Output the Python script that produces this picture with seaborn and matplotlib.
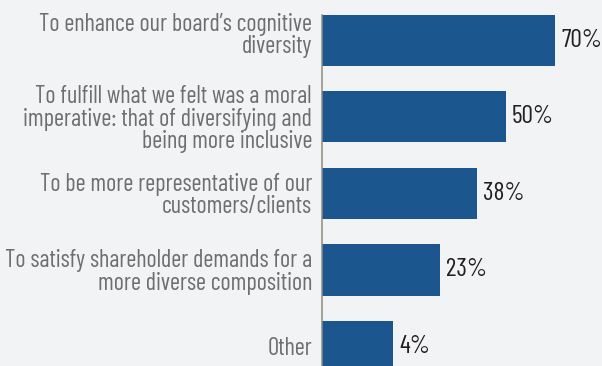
import matplotlib
matplotlib.use("Agg")
import matplotlib.pyplot as plt
from matplotlib import font_manager as fm
from matplotlib.transforms import ScaledTranslation
import seaborn as sns
import pandas as pd

categories = [
    "To enhance our board\u2019s cognitive\ndiversity",
    "To fulfill what we felt was a moral\nimperative: that of diversifying and\nbeing more inclusive",
    "To be more representative of our\ncustomers/clients",
    "To satisfy shareholder demands for a\nmore diverse composition",
    "Other",
]
values = [70, 50, 38, 23, 4]
value_labels = ["70%", "50%", "38%", "23%", "4%"]

BG = "#f2f3f5"
BAR = "#1b568e"
XMIN, XMAX = -24.96, 89.07

sns.set_theme(style="white")
available = {f.name for f in fm.fontManager.ttflist}
main = next(n for n in ["Barlow Condensed", "Roboto Condensed", "Archivo Narrow",
                        "DejaVu Sans"] if n in available)
fam = [main, "DejaVu Sans"]
plt.rcParams["font.family"] = fam

df = pd.DataFrame({"reason": categories, "pct": values})

fig = plt.figure(figsize=(6.02, 3.66), dpi=100, facecolor=BG)
ax = fig.add_axes([322 / 602, 0, 280 / 602, 1 - 15 / 366])
ax.set_facecolor(BG)

r = fig.canvas.get_renderer()
def width_at(s, size):
    t = fig.text(0, 0, s, fontsize=size, family=fam)
    w = t.get_window_extent(r).width
    t.remove()
    return w
lab_size = 16 * 215 / width_at("more diverse composition", 16)
val_size = 16 * 41 / width_at("70%", 16)

sns.barplot(data=df, x="pct", y="reason", color=BAR, width=0.667,
            saturation=1, ax=ax, orient="h")

# bars extend back to the axis line; right end sits at the value
for p in ax.patches:
    w = p.get_width()
    p.set_x(XMIN)
    p.set_width(w - XMIN)
    p.set_edgecolor("none")

ax.set_xlim(XMIN, XMAX)
ax.set_ylim(4.255, -0.333)

lift = ScaledTranslation(0, 0.07, fig.dpi_scale_trans)

for i, (v, lab) in enumerate(zip(values, value_labels)):
    a = ax.annotate(lab, xy=(v, i), xytext=(4.3, 0), textcoords="offset points",
                    ha="left", va="center", fontsize=val_size, color="#231f20",
                    family=fam)
    if i == 0:
        a.set_transform(a.get_transform() + lift)

ax.set_xlabel("")
ax.set_ylabel("")
ax.set_xticks([])
ax.tick_params(axis="y", length=0, pad=7.2)
for i, t in enumerate(ax.get_yticklabels()):
    t.set_fontsize(lab_size)
    t.set_color("#6e6e6e")
    t.set_linespacing(0.95)
    t.set_family(fam)
    if i == 0:
        t.set_transform(t.get_transform() + lift)

for s in ["top", "right", "bottom"]:
    ax.spines[s].set_visible(False)
ax.spines["left"].set_color("#8c8a80")
ax.spines["left"].set_linewidth(1.1)

fig.savefig("out.png", dpi=100, facecolor=BG)
